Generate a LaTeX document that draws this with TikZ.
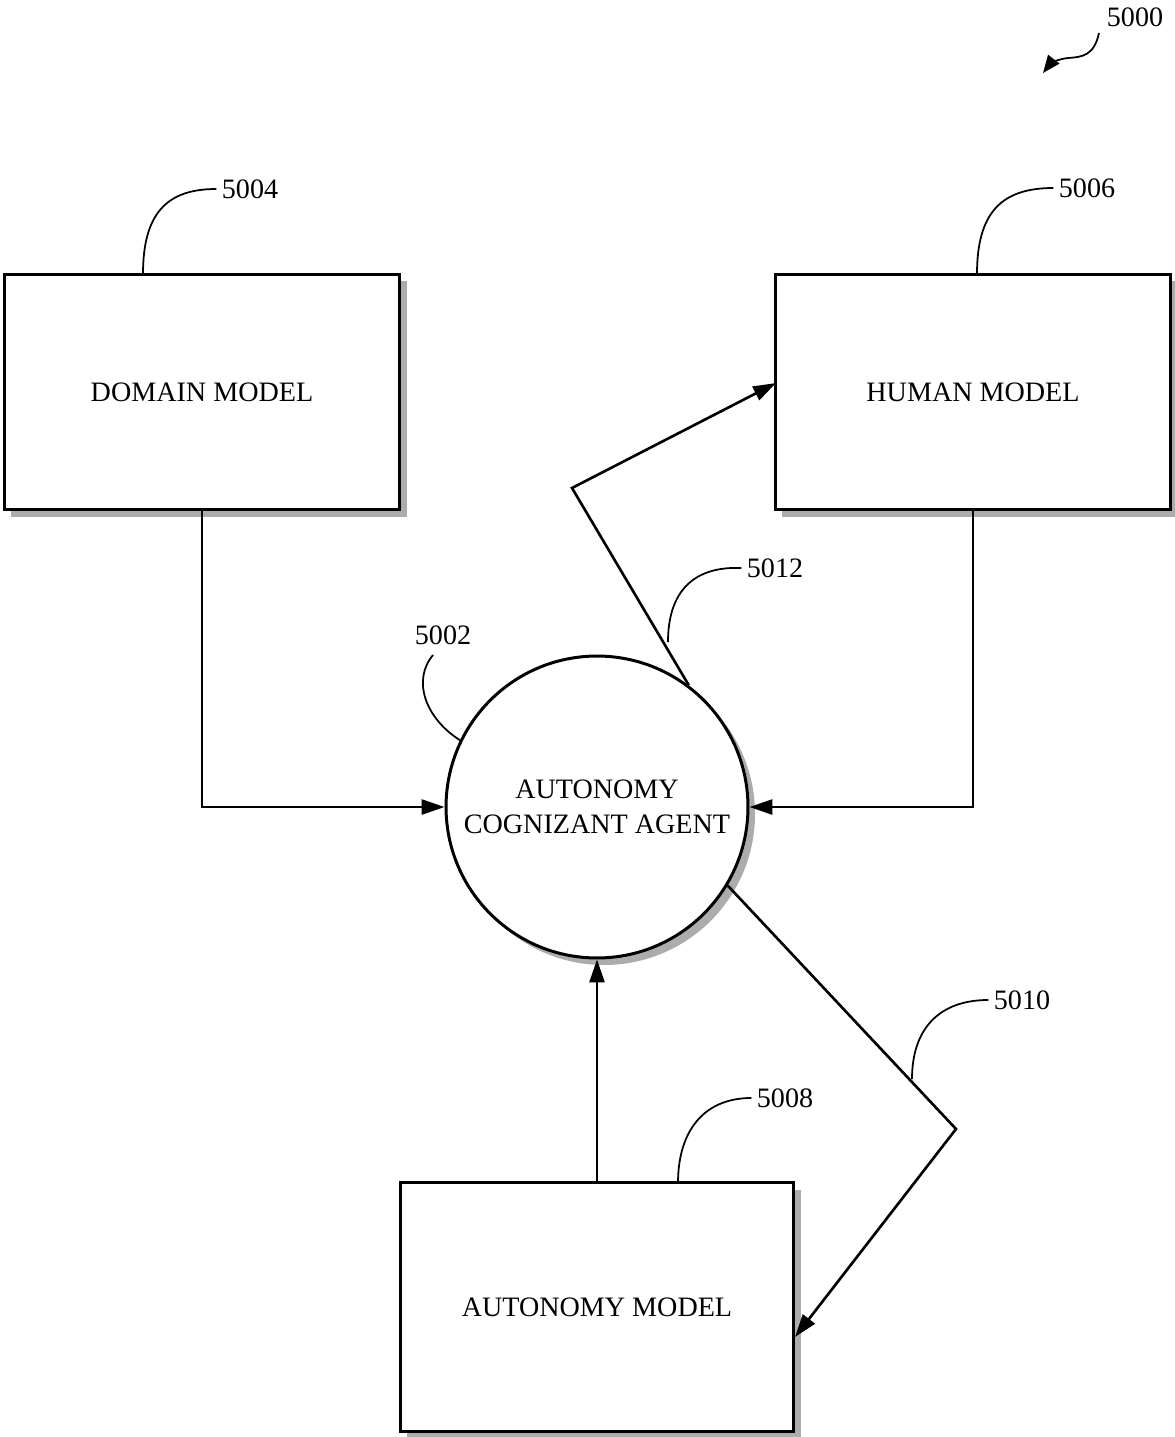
\documentclass[tikz,border=0pt]{standalone}
\usepackage{fontspec}
\setmainfont{Liberation Serif}
\usetikzlibrary{arrows.meta,shadows}

\tikzset{
  txt/.style={font=\fontsize{16}{20}\selectfont},
  boxshadow/.style={drop shadow={shadow xshift=4pt, shadow yshift=-4pt, fill=gray!65, opacity=1}},
  modelbox/.style={txt, draw, line width=1.7pt, fill=white, minimum width=7.92cm, minimum height=4.72cm, boxshadow},
  agentcircle/.style={txt, draw, circle, line width=1.7pt, fill=white, minimum size=6.04cm, inner sep=0pt, align=center, boxshadow},
  link/.style={line width=1.5pt, -{Triangle[length=13pt,width=8.5pt]}},
  leader/.style={line width=1pt},
  refnum/.style={txt, inner sep=3pt}
}

\begin{document}
\begin{tikzpicture}[x=0.02cm, y=-0.02cm]
      \useasboundingbox (0, 0) rectangle (1174, 1437);

      \node (domain) at (202, 392) [modelbox] {DOMAIN MODEL};
      \node (human) at (973, 392) [modelbox] {HUMAN MODEL};
      \node (automodel) at (597, 1307) [modelbox, minimum width=7.88cm, minimum height=4.98cm] {AUTONOMY MODEL};
      \node (agent) at (597, 807) [agentcircle] {AUTONOMY\\COGNIZANT AGENT};

      \coordinate (bendA) at (572, 488);
      \coordinate (hitA) at (776, 383);
      \coordinate (bendB) at (956, 1129);
      \coordinate (hitB) at (795, 1337);

      \draw[link] (domain.south) |- (agent.west);
      \draw[link] (human.south) |- (agent.east);
      \draw[link] (automodel.north) -- (agent.south);
      \draw[link] (agent.53.6) -- (bendA) -- (hitA);
      \draw[link] (agent.-31) -- (bendB) -- (hitB);

      % reference numerals
      \node (r5000) at (1135, 17) [refnum] {5000};
      \node (r5004) at (250, 189) [refnum] {5004};
      \node (r5006) at (1087, 188) [refnum] {5006};
      \node (r5002) at (443, 635) [refnum] {5002};
      \node (r5012) at (775, 568) [refnum] {5012};
      \node (r5010) at (1022, 1000) [refnum] {5010};
      \node (r5008) at (785, 1098) [refnum] {5008};

      \coordinate (f5004) at (143, 274);
      \coordinate (f5006) at (977, 274);
      \coordinate (f5012) at (668, 642);
      \coordinate (f5010) at (912, 1079);
      \coordinate (f5008) at (678, 1183);

      \draw[leader, -{Triangle[length=10pt,width=8pt]}] (1099, 33) .. controls (1094, 56) and (1082, 57) .. (1068, 58) .. controls (1058, 59) and (1050, 64) .. (1043, 73);
      \draw[leader] (f5004) .. controls (143, 212) and (168, 189) .. (r5004.west);
      \draw[leader] (f5006) .. controls (977, 212) and (1002, 188) .. (r5006.west);
      \draw[leader] (agent.154) .. controls (425, 718) and (412, 680) .. (433, 655);
      \draw[leader] (f5012) .. controls (668, 592) and (693, 566) .. (r5012.west);
      \draw[leader] (f5010) .. controls (912, 1030) and (938, 1000) .. (r5010.west);
      \draw[leader] (f5008) .. controls (678, 1132) and (703, 1098) .. (r5008.west);
    \end{tikzpicture}
\end{document}
